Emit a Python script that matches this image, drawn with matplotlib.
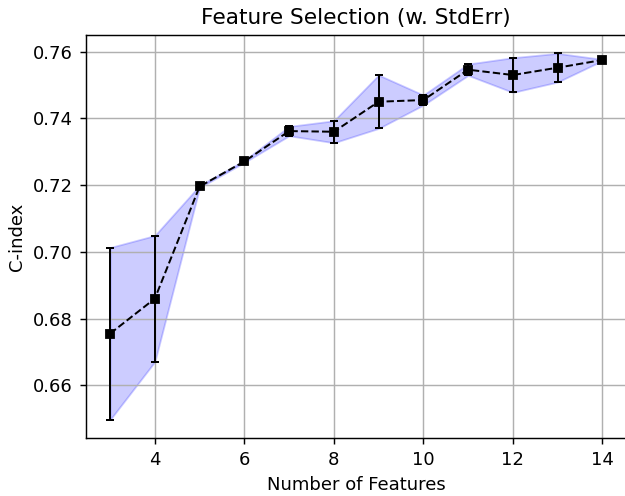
import matplotlib
matplotlib.use("Agg")
import matplotlib.pyplot as plt
import numpy as np

n_features = [3, 4, 5, 6, 7, 8, 9, 10, 11, 12, 13, 14]
c_index = [0.6755, 0.6860, 0.7196, 0.7271, 0.7362, 0.7360, 0.7450, 0.7455, 0.7546, 0.7530, 0.7552, 0.7575]
std_err = [0.0258, 0.0189, 0.0003, 0.0003, 0.0014, 0.0033, 0.0080, 0.0015, 0.0017, 0.0052, 0.0043, 0.0002]

DPI = 130
fig = plt.figure(figsize=(625 / DPI, 496 / DPI), dpi=DPI)
ax = fig.add_axes([0.1368, 0.1169, 0.8664, 0.8125])

x = np.array(n_features)
y = np.array(c_index)
e = np.array(std_err)

ax.errorbar(x, y, yerr=e, fmt='s--', color='black', markersize=4.5, capsize=2,
            linewidth=1.1, elinewidth=1.1, capthick=1.1)
ax.fill_between(x, y - e, y + e, color='blue', alpha=0.2)

ax.set_title("Feature Selection (w. StdErr)", fontsize=12)
ax.set_xlabel("Number of Features", fontsize=10)
ax.set_ylabel("C-index", fontsize=10)
ax.tick_params(labelsize=10)
ax.grid(True, linewidth=0.8)

fig.savefig("out.png", dpi=DPI)
